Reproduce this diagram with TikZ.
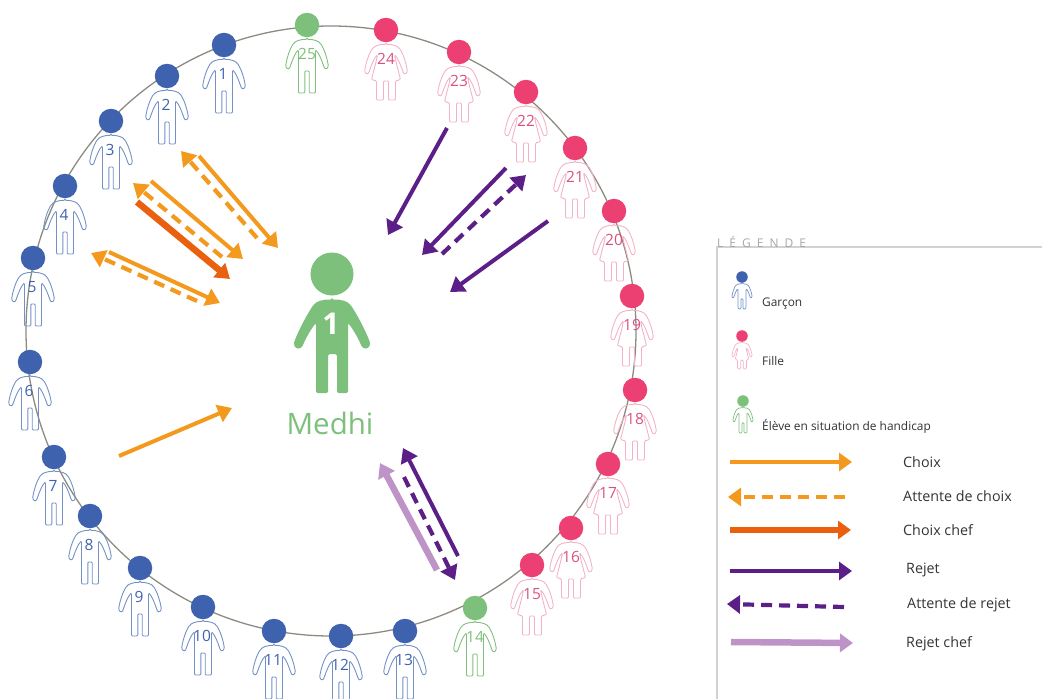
\documentclass[tikz,border=0pt]{standalone}
\usepackage{fontspec}
\setmainfont{Open Sans}
\newfontfamily\spaced[LetterSpace=50]{Open Sans}
\usetikzlibrary{arrows.meta}
\definecolor{boyc}{HTML}{3F62AE}
\definecolor{boyl}{HTML}{7391C6}
\definecolor{girlc}{HTML}{EC3F72}
\definecolor{girll}{HTML}{F3B3C5}
\definecolor{girlt}{HTML}{D9517F}
\definecolor{greenc}{HTML}{7CC07C}
\definecolor{greenl}{HTML}{7FBF7D}
\definecolor{orng}{HTML}{F39A1E}
\definecolor{dorng}{HTML}{E9600F}
\definecolor{purp}{HTML}{5B1F87}
\definecolor{lpurp}{HTML}{BE93C8}
\definecolor{ringc}{HTML}{8C8B82}
\definecolor{framec}{HTML}{D2D2D2}
\newcommand\armsR{.. controls (7,14.3) and (12,16) .. (14.5,20) .. controls (17.5,25) and (20,33) .. (21,39) .. controls (21.7,43) and (18.5,45) .. (17,42) .. controls (15,36) and (12,28) .. (8.5,25)}
\newcommand\armsL{(-8.5,25) .. controls (-12,28) and (-15,36) .. (-17,42) .. controls (-18.5,45) and (-21.7,43) .. (-21,39) .. controls (-20,33) and (-17.5,25) .. (-14.5,20) .. controls (-12,16) and (-7,14.3) .. (0,14.3)}
\newcommand\boyshape{(0,14.3) \armsR -- (8.5,68) -- (2.2,68) -- (2.2,46) -- (-2.2,46) -- (-2.2,68) -- (-8.5,68) -- \armsL -- cycle}
\newcommand\girlshape{(0,14.3) \armsR -- (10,32) -- (14.5,49.5) -- (9.5,51) -- (9.5,70) -- (2.5,70) -- (2.5,51) -- (-2.5,51) -- (-2.5,70) -- (-9.5,70) -- (-9.5,51) -- (-14.5,49.5) -- (-10,32) -- \armsL -- cycle}
\newcommand\bigshape{(0,25.5) .. controls (10,25.5) and (16,27) .. (20,33) .. controls (27,44) and (33,56) .. (37.5,67) .. controls (39.5,74) and (32,77) .. (29,71) .. controls (26,64) and (21,55) .. (16,49) -- (16,119) -- (5,119) -- (5,80) -- (-4,80) -- (-4,119) -- (-16,119) -- (-16,49) .. controls (-21,55) and (-26,64) .. (-29,71) .. controls (-32,77) and (-39.5,74) .. (-37.5,67) .. controls (-33,56) and (-27,44) .. (-20,33) .. controls (-16,27) and (-10,25.5) .. (0,25.5) -- cycle}
\newcommand\person[8]{% name, x, y, scale, shape, line colour, line width, head colour
  \draw[#6,rounded corners=1,line width=#7,shift={(#2,#3)},scale=#4] #5;
  \node[headdot,fill=#8,minimum size=#4*24.5] (#1) at (#2,#3) {};}
\newcommand\arr[4]{\coordinate (#1s) at (#2); \coordinate (#1e) at (#3); \draw[#4] (#1s) -- (#1e);}
\tikzset{
  headdot/.style={circle,draw=none,inner sep=0pt},
  numlabel/.style={font=\fontsize{15.5}{16}\selectfont,inner sep=0pt},
  legtext/.style={anchor=base west,inner sep=0pt,text=black!80,font=\fontsize{11.9}{13}\selectfont},
  keytext/.style={anchor=base west,inner sep=0pt,text=black!80,font=\fontsize{14.3}{16}\selectfont},
  tipp/.style={-{Triangle[length=14,width=18]}},
  solidor/.style={tipp,orng,line width=4},
  dashor/.style={tipp,orng,line width=4.2,dash pattern=on 11 off 7},
  chefor/.style={tipp,dorng,line width=6.5},
  solidpu/.style={tipp,purp,line width=4},
  dashpu/.style={tipp,purp,line width=4.2,dash pattern=on 11 off 7},
  chefpu/.style={tipp,lpurp,line width=6.5},
}
\begin{document}
\begin{tikzpicture}[x=1pt,y=-1pt]
\clip (0,0) rectangle (1042,699);
% ring
\node[circle,draw=ringc,line width=1.3,minimum size=610,inner sep=0pt] (ring) at (331,331) {};
% boys
\foreach \n/\x/\y in {1/224/45,2/167/76,3/111/121,4/65/186,5/33/258,6/30/362,7/54/457,8/90/516,9/140/568,10/203/607,11/274/631,12/341/636,13/405/631}{
  \person{h\n}{\x}{\y}{1}{\boyshape}{boyl}{0.9}{boyc}
  \node[numlabel,text=boyc] (n\n) at (\x-1,\y+29) {\n};
}
% girls
\foreach \n/\x/\y in {15/532/565,16/571/528,17/608/464,18/635/390,19/632/296,20/614/211,21/575/148,22/526/92,23/459/52,24/386/30}{
  \person{h\n}{\x}{\y}{1}{\girlshape}{girll}{0.9}{girlc}
  \node[numlabel,text=girlt] (n\n) at (\x,\y+29) {\n};
}
% green pupils
\foreach \n/\x/\y in {14/475/608,25/307/25}{
  \person{h\n}{\x}{\y}{1}{\boyshape}{greenl}{0.9}{greenc}
  \node[numlabel,text=greenl] (n\n) at (\x,\y+29) {\n};
}
% Medhi
\fill[greenc,shift={(332,274)},rounded corners=1.5] \bigshape;
\node[headdot,fill=greenc,minimum size=43] (medhi) at (332,274) {};
\node[inner sep=0pt,text=white,font=\fontsize{30}{32}\bfseries\selectfont] (medhin) at (331,324) {1};
\node[inner sep=0pt,text=greenc,font=\fontsize{29.5}{32}\selectfont,anchor=base] (medhit) at (330,434) {Medhi};
% arrows: orange
\arr{a1}{199,156}{278,248}{solidor}
\arr{a2}{257,238}{181,151}{dashor}
\arr{b1}{151,181}{243,259}{solidor}
\arr{b2}{222,257}{133,183}{dashor}
\arr{b3}{137,202}{230,279}{chefor}
\arr{c1}{109,252}{220,303}{solidor}
\arr{c2}{197,301}{91,253}{dashor}
\arr{d1}{119,456}{232,408}{solidor}
% arrows: purple
\arr{e1}{447,128}{388,235}{solidpu}
\arr{e2}{506,168}{422,255}{solidpu}
\arr{e3}{442,254}{526,175}{dashpu}
\arr{e4}{548,221}{450,292}{solidpu}
\arr{f1}{458,556}{403,448}{solidpu}
\arr{f2}{404,477}{455,580}{dashpu}
\arr{f3}{437,570}{380,463}{chefpu}
% legend frame
\coordinate (fb) at (717,699);
\coordinate (fa) at (717,247);
\coordinate (fr) at (1042,247);
\draw[framec,line width=1.1] (fb) -- (fa) -- (fr);
\node[anchor=base west,inner sep=0pt,text=black!35,font=\fontsize{12}{13}\spaced] (legt) at (717,247) {LÉGENDE};
% legend figures
\person{lb}{742}{277}{0.47}{\boyshape}{boyl}{0.7}{boyc}
\person{lg}{742}{336}{0.47}{\girlshape}{girll}{0.7}{girlc}
\person{lh}{743}{401}{0.47}{\boyshape}{greenl}{0.7}{greenc}
\node[legtext] (t1) at (762,306) {Garçon};
\node[legtext] (t2) at (762,365) {Fille};
\node[legtext] (t3) at (762,430) {Élève en situation de handicap};
% legend keys
\tikzset{keytip/.style={-{Triangle[length=13,width=18]}}}
\arr{k1}{730,462}{852,462}{solidor,keytip}
\arr{k2}{845,497}{728,497}{dashor,keytip}
\arr{k3}{730,530}{851,530}{chefor,keytip}
\arr{k4}{730,571}{852,571}{solidpu,keytip}
\arr{k5}{844,607}{727,604}{dashpu,keytip}
\arr{k6}{731,642}{853,643}{chefpu,keytip}
\node[keytext] (t4) at (903,467) {Choix};
\node[keytext] (t5) at (903,501.5) {Attente de choix};
\node[keytext] (t6) at (903,535.5) {Choix chef};
\node[keytext] (t7) at (906,573) {Rejet};
\node[keytext] (t8) at (907,608) {Attente de rejet};
\node[keytext] (t9) at (906,647) {Rejet chef};
\end{tikzpicture}
\end{document}
